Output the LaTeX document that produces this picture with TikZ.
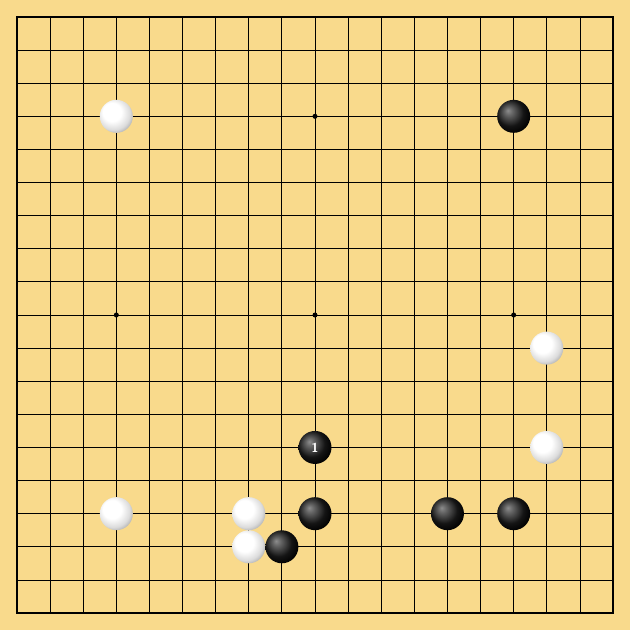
\documentclass[tikz,border=0pt]{standalone}
\definecolor{board}{RGB}{249,218,140}
\pgfdeclareradialshading{whiteball}{\pgfpoint{-9bp}{9bp}}{%
  color(0bp)=(white); color(14bp)=(white); color(25bp)=(black!14);
  color(32bp)=(black!35); color(50bp)=(black!55)}
\pgfdeclareradialshading{blackball}{\pgfpoint{-9bp}{9bp}}{%
  color(0bp)=(black!45); color(6bp)=(black!60); color(20bp)=(black!92);
  color(30bp)=(black); color(50bp)=(black)}
\tikzset{
  stone/.style={circle, inner sep=0pt, minimum size=33pt},
  blackstone/.style={stone, shading=blackball},
  whitestone/.style={stone, shading=whiteball},
  gridline/.style={line width=0.8pt},
}
\begin{document}
\begin{tikzpicture}[x=33.11pt,y=-33.11pt]
      \fill[board] (-0.513,-0.513) rectangle (18.513,18.513);
      \foreach \i in {1,...,17} {
        \draw[gridline] (\i,0) -- (\i,18);
        \draw[gridline] (0,\i) -- (18,\i);
      }
      \draw[line width=1.6pt] (0,0) rectangle (18,18);
      \foreach \x/\y in {3/3,9/3,15/3,3/9,9/9,15/9,3/15,9/15,15/15}
        \fill (\x,\y) circle (2.5pt);
      % white stones
      \node[whitestone] (w1) at (3,3) {};
      \node[whitestone] (w2) at (16,10) {};
      \node[whitestone] (w3) at (16,13) {};
      \node[whitestone] (w4) at (3,15) {};
      \node[whitestone] (w5) at (7,15) {};
      \node[whitestone] (w6) at (7,16) {};
      % black stones
      \node[blackstone] (b1) at (15,3) {};
      \node[blackstone] (b2) at (9,13) {};
      \node[text=white, font=\sffamily\bfseries\fontsize{13}{13}\selectfont] at (b2) {1};
      \node[blackstone] (b3) at (9,15) {};
      \node[blackstone] (b4) at (13,15) {};
      \node[blackstone] (b5) at (15,15) {};
      \node[blackstone] (b6) at (8,16) {};
    \end{tikzpicture}
\end{document}
